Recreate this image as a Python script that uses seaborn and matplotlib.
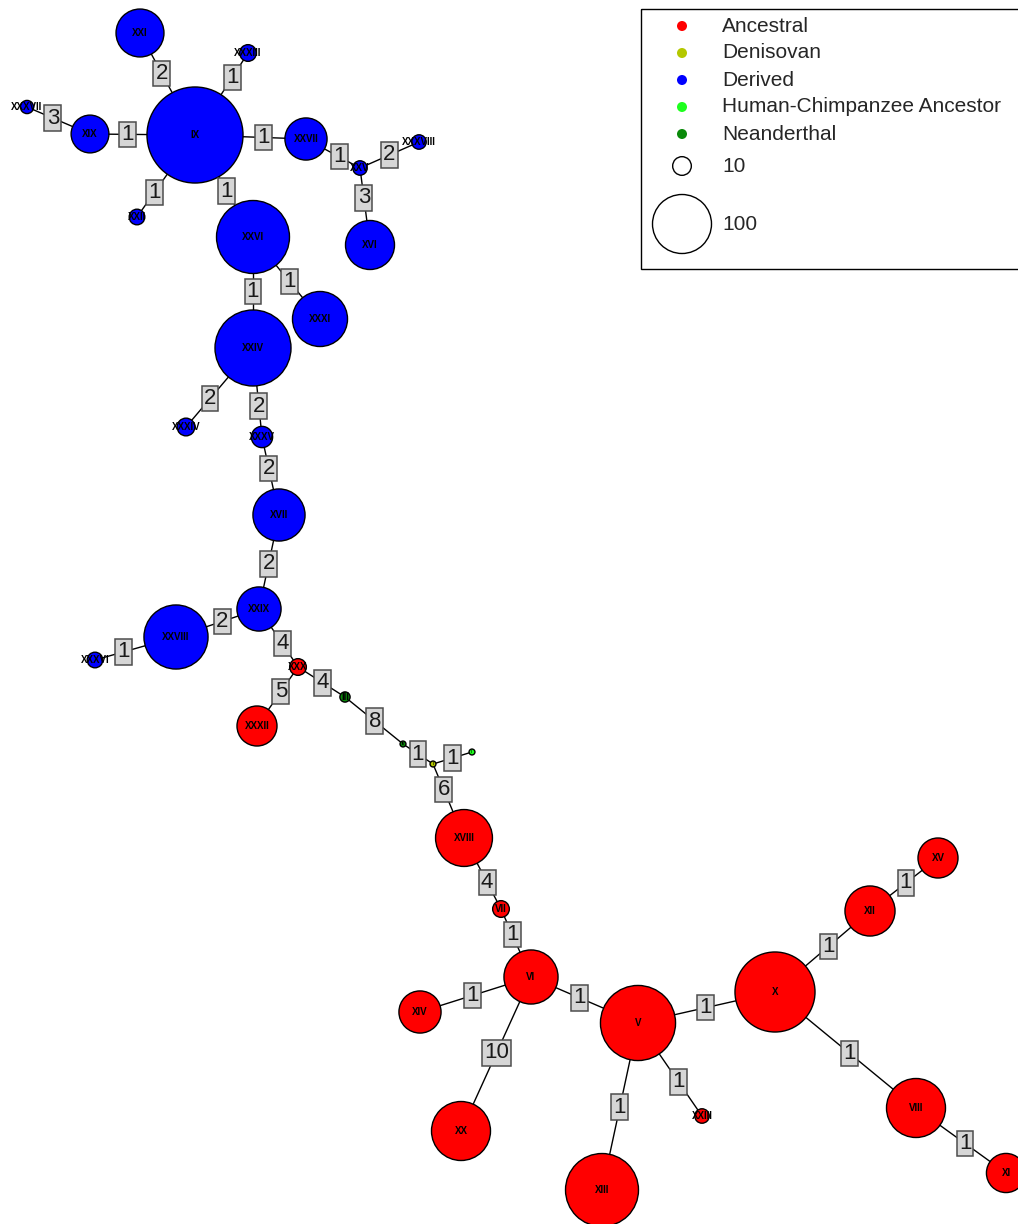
import numpy as np
import pandas as pd
import matplotlib
matplotlib.use("Agg")
import matplotlib.pyplot as plt
import seaborn as sns

# Haplotype network: node layout (pixel space, y downward), haplotype counts and groups
names = ["IX", "XXI", "XXXIII", "XXXVII", "XIX", "XXVII", "XXV", "XXXVIII", "XVI", "XXII",
         "XXVI", "XXXI", "XXIV", "XXXIV", "XXXV", "XVII", "XXIX", "XXVIII", "XXXVI",
         "XXX", "XXXII", "III", "IV", "I", "II",
         "XVIII", "VII", "VI", "XIV", "V", "X", "XII", "XV", "VIII", "XI", "XXIII", "XX", "XIII"]
xs = [195, 140, 248, 27, 90, 306, 360, 419, 370, 137,
      253, 320, 253, 186, 262, 279, 259, 176, 95,
      298, 257, 345, 403, 433, 472,
      464, 501, 531, 420, 638, 775, 870, 938, 916, 1006, 702, 461, 602]
ys = [135, 33, 53, 107, 134, 139, 168, 142, 245, 217,
      237, 319, 348, 427, 437, 515, 609, 637, 660,
      667, 726, 697, 744, 764, 752,
      838, 909, 977, 1012, 1023, 992, 911, 858, 1108, 1173, 1116, 1131, 1190]
counts = [265, 66, 8, 5, 41, 51, 6, 6, 69, 7,
          153, 87, 166, 9, 13, 78, 56, 118, 7,
          8, 46, 3, 1, 1, 1,
          93, 8, 84, 51, 162, 184, 72, 46, 100, 44, 6, 100, 153]
groups = (["Derived"] * 19
          + ["Ancestral", "Ancestral", "Neanderthal", "Neanderthal", "Denisovan",
             "Human-Chimpanzee Ancestor"]
          + ["Ancestral"] * 13)

# Edges with number of mutational steps
edges = [("IX", "XXI", "2"), ("IX", "XXXIII", "1"), ("XXXVII", "XIX", "3"), ("XIX", "IX", "1"),
         ("IX", "XXVII", "1"), ("XXVII", "XXV", "1"), ("XXV", "XXXVIII", "2"), ("XXV", "XVI", "3"),
         ("IX", "XXII", "1"), ("IX", "XXVI", "1"), ("XXVI", "XXXI", "1"), ("XXVI", "XXIV", "1"),
         ("XXIV", "XXXIV", "2"), ("XXIV", "XXXV", "2"), ("XXXV", "XVII", "2"), ("XVII", "XXIX", "2"),
         ("XXIX", "XXVIII", "2"), ("XXVIII", "XXXVI", "1"), ("XXIX", "XXX", "4"), ("XXX", "XXXII", "5"),
         ("XXX", "III", "4"), ("III", "IV", "8"), ("IV", "I", "1"), ("I", "II", "1"),
         ("I", "XVIII", "6"), ("XVIII", "VII", "4"), ("VII", "VI", "1"), ("VI", "XIV", "1"),
         ("VI", "V", "1"), ("VI", "XX", "10"), ("V", "X", "1"), ("V", "XXIII", "1"),
         ("V", "XIII", "1"), ("X", "XII", "1"), ("XII", "XV", "1"), ("X", "VIII", "1"),
         ("VIII", "XI", "1")]

categories = ["Ancestral", "Denisovan", "Derived", "Human-Chimpanzee Ancestor", "Neanderthal"]
colors = ["#FF0000", "#B4C800", "#0000FF", "#1EFF1E", "#0A8A0A"]
legend_sizes = [10, 100]

palette = dict(zip(categories, colors))
df = pd.DataFrame({"name": names, "x": xs, "y": ys, "count": counts, "group": groups})

W, H, DPI = 1018, 1224, 100
PX_PER_SQRT = 2.95                      # node radius in px = PX_PER_SQRT * sqrt(count)
PT_PER_PX = 72.0 / DPI
S_PER_COUNT = (2 * PX_PER_SQRT * PT_PER_PX) ** 2   # scatter area (pt^2) per haplotype copy

sns.set_style("white")
plt.rcParams["font.family"] = ["Liberation Sans", "DejaVu Sans"]

fig = plt.figure(figsize=(W / DPI, H / DPI), dpi=DPI)
ax = fig.add_axes([0, 0, 1, 1])
ax.set_xlim(0, W)
ax.set_ylim(H, 0)
ax.set_axis_off()

pos = {n: (x, y) for n, x, y in zip(df["name"], df["x"], df["y"])}
rad = {n: PX_PER_SQRT * np.sqrt(c) for n, c in zip(df["name"], df["count"])}

# edges and their step-count boxes (placed mid-way along the visible segment)
for a, b, lab in edges:
    (x0, y0), (x1, y1) = pos[a], pos[b]
    ax.plot([x0, x1], [y0, y1], color="black", lw=1.0, zorder=1)
    L = np.hypot(x1 - x0, y1 - y0)
    t = (rad[a] + (L - rad[b])) / 2 / L
    ax.text(x0 + t * (x1 - x0), y0 + t * (y1 - y0), lab, ha="center", va="center",
            fontsize=16, color="#1A1A1A", zorder=4,
            bbox=dict(boxstyle="square,pad=0.1", fc="#D6D6D6", ec="#4D4D4D", lw=1.1))

maxc = max(counts)
sns.scatterplot(data=df, x="x", y="y", hue="group", palette=palette,
                size="count", sizes=(0, S_PER_COUNT * maxc), size_norm=(0, maxc),
                edgecolor="black", linewidth=1.0, legend=False, ax=ax, zorder=3)
ax.set_xlim(0, W)
ax.set_ylim(H, 0)
ax.set_axis_off()

for n, x, y, c in zip(df["name"], df["x"], df["y"], df["count"]):
    ax.text(x, y, n, ha="center", va="center", fontsize=7 if c > 2 else 2.5,
            fontweight="bold", color="black", zorder=5)

# legend box
ax.add_patch(plt.Rectangle((641, 9), 400, 260, fill=False, ec="black", lw=1.0,
                           zorder=6, clip_on=False))
row_y = [26, 53, 80, 107, 134]
ax.scatter([682] * len(categories), row_y, s=52, c=colors, linewidths=0, zorder=7)
for yy, cat in zip(row_y, categories):
    ax.text(722, yy, cat, ha="left", va="center", fontsize=15, zorder=7)
size_y = [166, 224]
ax.scatter([682] * len(legend_sizes), size_y,
           s=[S_PER_COUNT * v for v in legend_sizes],
           facecolors="white", edgecolors="black", linewidths=1.0, zorder=7)
for yy, v in zip(size_y, legend_sizes):
    ax.text(722, yy, str(v), ha="left", va="center", fontsize=15, zorder=7)

fig.savefig("out.png", dpi=DPI, facecolor="white")
